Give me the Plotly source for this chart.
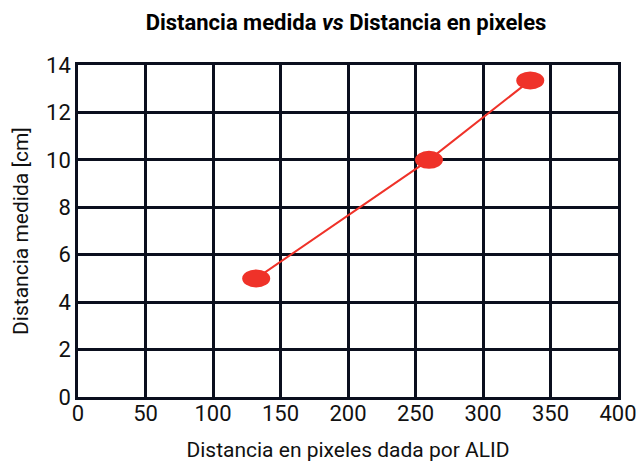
import plotly.graph_objects as go

pixels = [132, 260, 335]
distance_cm = [5.0, 10.0, 13.35]
x_ticks = [0, 50, 100, 150, 200, 250, 300, 350, 400]
y_ticks = [0, 2, 4, 6, 8, 10, 12, 14]

RED = "#ef3229"
GRID = "#0b0f1e"

fig = go.Figure()
fig.add_trace(go.Scatter(x=pixels, y=distance_cm, mode="lines",
                         line=dict(color=RED, width=2), showlegend=False,
                         hoverinfo="skip"))
# elliptical markers
for xv, yv in zip(pixels, distance_cm):
    fig.add_shape(type="circle", xref="x", yref="y",
                  xsizemode="pixel", ysizemode="pixel",
                  xanchor=xv, yanchor=yv,
                  x0=-14, x1=14, y0=-9, y1=9,
                  fillcolor=RED, line=dict(color=RED, width=0), layer="above")

fig.update_layout(
    width=639, height=462,
    paper_bgcolor="white", plot_bgcolor="white",
    margin=dict(l=78, r=21, t=65, b=65, autoexpand=False),
    title=dict(text="<b>Distancia medida <i>vs</i> Distancia en pixeles</b>",
               x=0.5415, xanchor="center", y=0.952, yanchor="middle",
               font=dict(family="Roboto", size=22, color="black")),
    font=dict(family="Roboto", color="black"),
)
fig.update_xaxes(range=[0, 400], tickvals=x_ticks, ticktext=[str(v) for v in x_ticks],
                 automargin=False, ticklabelstandoff=-5,
                 showgrid=True, gridcolor=GRID, gridwidth=2.5,
                 showline=True, linecolor=GRID, linewidth=2.5, mirror=True,
                 zeroline=False, ticks="", tickfont=dict(size=22, color="#111"),
                 title=dict(text="Distancia en pixeles dada por ALID",
                            font=dict(size=21, color="#111"), standoff=18))
fig.update_yaxes(range=[0, 14], tickvals=y_ticks, ticktext=[str(v) for v in y_ticks],
                 automargin=False,
                 showgrid=True, gridcolor=GRID, gridwidth=2.5,
                 showline=True, linecolor=GRID, linewidth=2.5, mirror=True,
                 zeroline=False, ticks="", tickfont=dict(size=22, color="#111"),
                 title=dict(text="Distancia medida [cm]",
                            font=dict(size=21, color="#111"), standoff=12))

fig.write_html("out.html", config={"displayModeBar": False},
               post_script="document.body.style.margin='0';document.body.style.overflow='hidden';")
